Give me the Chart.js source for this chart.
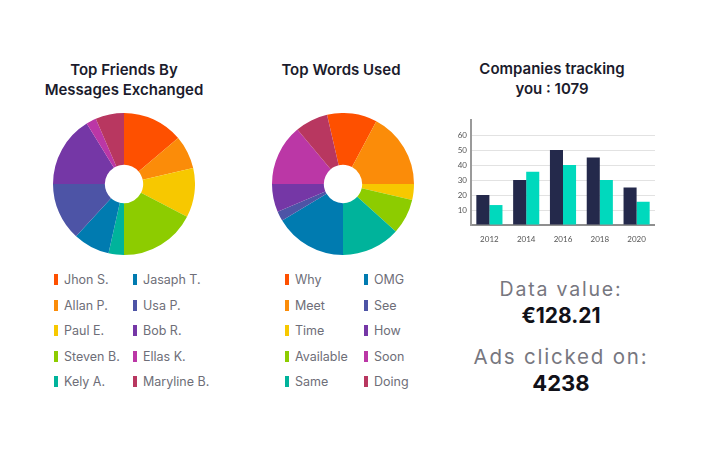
<!DOCTYPE html>
<html><head><meta charset="utf-8">
<script src="https://cdn.jsdelivr.net/npm/chart.js@4/dist/chart.umd.min.js"></script>
<style>
html,body{margin:0;padding:0;background:#fff;}
body{width:701px;height:453px;position:relative;overflow:hidden;font-family:'Inter','Open Sans',sans-serif;}
.title{position:absolute;text-align:center;font-weight:600;font-size:15px;line-height:20px;color:#1b1b2c;}
.col{position:absolute;}
.row{height:25.5px;display:flex;align-items:center;font-size:12.5px;color:#6e6e78;white-space:nowrap;}
.sw{width:4px;height:11px;margin-right:6px;flex:none;}
canvas{position:absolute;}
.stat{position:absolute;text-align:center;width:260px;left:431px;white-space:nowrap;line-height:normal;}
.lbl{color:#77777f;font-weight:400;letter-spacing:1.8px;}
.val{color:#111118;font-weight:700;}
</style></head><body>

<div class="title" style="left:24px;top:60px;width:200px;">Top Friends By<br>Messages Exchanged</div>
<div class="title" style="left:241px;top:60px;width:200px;">Top Words Used</div>
<div class="title" style="left:452px;top:59px;width:200px;">Companies tracking<br>you : 1079</div>

<canvas id="friends" width="142" height="142" style="left:53px;top:113px;width:142px;height:142px;"></canvas>
<canvas id="words" width="142" height="142" style="left:272px;top:113px;width:142px;height:142px;"></canvas>
<canvas id="bars" width="215" height="135" style="left:440px;top:110px;width:215px;height:135px;"></canvas>

<div id="fl1" class="col" style="left:54px;top:267px;"></div>
<div id="fl2" class="col" style="left:133px;top:267px;"></div>
<div id="wl1" class="col" style="left:285px;top:267px;"></div>
<div id="wl2" class="col" style="left:364px;top:267px;"></div>

<div class="stat lbl" style="top:277px;font-size:19.5px;">Data value:</div>
<div class="stat val" style="top:303px;font-size:21px;">€128.21</div>
<div class="stat lbl" style="top:344px;font-size:20.5px;">Ads clicked on:</div>
<div class="stat val" style="top:370px;font-size:22px;">4238</div>

<script>
// ---- data ----
const sliceColors = ['#fe5000','#fb8c09','#f7c800','#8dcc00','#00b39b','#007bb0','#4d54a6','#7537a6','#bb37a6','#b83760'];
const friendLabels = ['Jhon S.','Allan P.','Paul E.','Steven B.','Kely A.','Jasaph T.','Usa P.','Bob R.','Ellas K.','Maryline B.'];
const friendValues = [138, 76, 112, 174, 35, 83, 132, 162, 23, 65];
const wordLabels = ['Why','Meet','Time','Available','Same','OMG','See','How','Soon','Doing'];
const wordValues = [41, 62, 13, 29, 48, 59, 8, 23, 50, 27];
const years = ['2012','2014','2016','2018','2020'];
const seriesA = [20, 30, 50, 45, 25];
const seriesB = [13.3, 35.5, 40, 30, 15.5];
const yTicks = [10, 20, 30, 40, 50, 60];

function legend(el, labels, colors) {
  labels.forEach((l, i) => {
    const r = document.createElement('div'); r.className = 'row';
    const s = document.createElement('span'); s.className = 'sw'; s.style.background = colors[i];
    const t = document.createElement('span'); t.textContent = l;
    r.appendChild(s); r.appendChild(t); el.appendChild(r);
  });
}
legend(document.getElementById('fl1'), friendLabels.slice(0,5), sliceColors.slice(0,5));
legend(document.getElementById('fl2'), friendLabels.slice(5), sliceColors.slice(5));
legend(document.getElementById('wl1'), wordLabels.slice(0,5), sliceColors.slice(0,5));
legend(document.getElementById('wl2'), wordLabels.slice(5), sliceColors.slice(5));

function pie(id, labels, values, rotation) {
  new Chart(document.getElementById(id), {
    type: 'doughnut',
    data: { labels: labels, datasets: [{ data: values, backgroundColor: sliceColors, borderWidth: 0, hoverOffset: 0 }] },
    options: {
      responsive: false, animation: false, cutout: '27%', rotation: rotation,
      layout: { padding: 0 },
      plugins: { legend: { display: false }, tooltip: { enabled: false } }
    }
  });
}
pie('friends', friendLabels, friendValues, 0);
pie('words', wordLabels, wordValues, -13);

new Chart(document.getElementById('bars'), {
  type: 'bar',
  data: { labels: years, datasets: [
    { data: seriesA, backgroundColor: '#24294b', borderWidth: 0 },
    { data: seriesB, backgroundColor: '#00d9bd', borderWidth: 0 }
  ]},
  options: {
    responsive: false, animation: false,
    layout: { padding: { top: 10, right: 0, left: 0, bottom: 0 } },
    datasets: { bar: { categoryPercentage: 0.71, barPercentage: 1 } },
    plugins: { legend: { display: false }, tooltip: { enabled: false } },
    scales: {
      x: {
        grid: { display: false },
        border: { display: true, color: '#8f8f8f', width: 2 },
        ticks: { color: '#555', font: { family: 'Lato', size: 8 }, padding: 2, maxRotation: 0 },
        afterFit: s => { s.height = 20; }
      },
      y: {
        min: 0, max: 70,
        afterBuildTicks: s => { s.ticks = [0].concat(yTicks).concat([70]).map(v => ({ value: v })); },
        grid: { color: c => (c.tick && (c.tick.value === 0 || c.tick.value === 70)) ? 'rgba(0,0,0,0)' : '#e2e2e2', lineWidth: 1, drawTicks: false },
        border: { display: true, color: '#9a9a9a', width: 2 },
        ticks: { color: '#555', font: { family: 'Lato', size: 8 }, padding: 4,
                 callback: v => yTicks.includes(v) ? String(v) : '' },
        afterFit: s => { s.width = 31; }
      }
    }
  }
});
</script>
</body></html>
